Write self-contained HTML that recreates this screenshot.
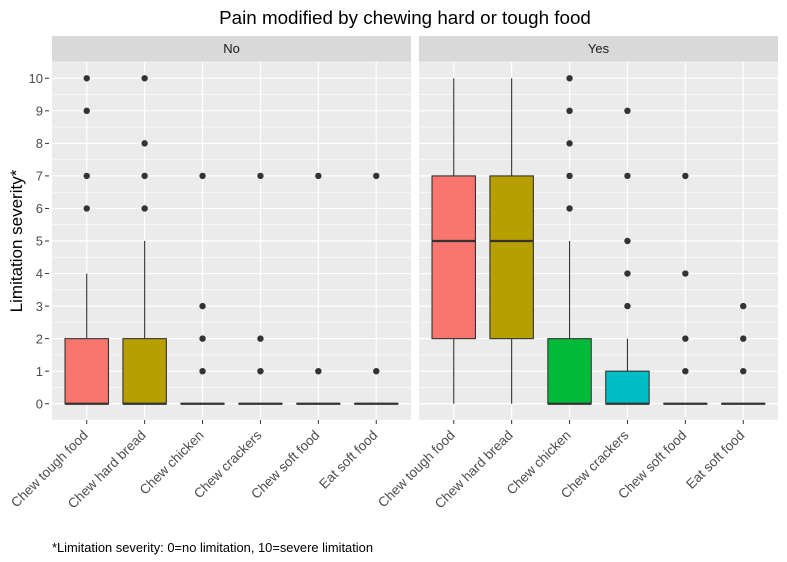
<!DOCTYPE html>
<html><head><meta charset="utf-8"><style>body{margin:0;background:#fff}svg{display:block;font-family:"Liberation Sans",Arial,sans-serif}</style></head>
<body>
<svg id="c" width="787" height="562"></svg>
<script>
const categories=["Chew tough food","Chew hard bread","Chew chicken","Chew crackers","Chew soft food","Eat soft food"];
const panels=["No","Yes"];
const colors=["#F8766D","#B79F00","#00BA38","#00BFC4","#619CFF","#F564E3"];
// [lowWhisker,q1,median,q3,highWhisker]
const statsNo=[[0,0,0,2,4],[0,0,0,2,5],[0,0,0,0,0],[0,0,0,0,0],[0,0,0,0,0],[0,0,0,0,0]];
const outliersNo=[[6,7,9,10],[6,7,8,10],[1,2,3,7],[1,2,7],[1,7],[1,7]];
const statsYes=[[0,2,5,7,10],[0,2,5,7,10],[0,0,0,2,5],[0,0,0,1,2],[0,0,0,0,0],[0,0,0,0,0]];
const outliersYes=[[],[],[6,7,8,9,10],[3,4,5,7,9],[1,2,4,7],[1,2,3]];
const yTicks=[0,1,2,3,4,5,6,7,8,9,10];

const NS="http://www.w3.org/2000/svg",svg=document.getElementById('c');
function el(t,a,p){const e=document.createElementNS(NS,t);for(const k in a)e.setAttribute(k,a[k]);(p||svg).appendChild(e);return e;}
const yTop=62,yBot=420,panelX=[52,419],pw=359;
function y(v){return yBot-(v+0.5)/11*(yBot-yTop);}
function x(p,i){return panelX[p]+(i+0.6)/6.2*pw;}
const unit=pw/6.2,bw=0.75*unit;

let t=el('text',{x:405,y:24,'font-size':18.8,'text-anchor':'middle',fill:'#000'});t.textContent="Pain modified by chewing hard or tough food";


t=el('text',{x:0,y:0,'font-size':17,'text-anchor':'middle',transform:`translate(22,${(yTop+yBot)/2}) rotate(-90)`});t.textContent="Limitation severity*";


t=el('text',{x:52,y:552,'font-size':12.9});t.textContent="*Limitation severity: 0=no limitation, 10=severe limitation";



yTicks.forEach(v=>{
  const l=el('text',{x:43,y:y(v)+4.7,'font-size':13,'text-anchor':'end',fill:'#4D4D4D'});l.textContent=v;
  
  
  el('line',{x1:45,x2:49,y1:y(v),y2:y(v),stroke:'#333','stroke-width':1});
});

panels.forEach((pn,p)=>{
  const g=el('g',{});
  
  
  el('rect',{x:panelX[p],y:36,width:pw,height:26,fill:'#D9D9D9'},g);
  const s=el('text',{x:panelX[p]+pw/2,y:53,'font-size':13,'text-anchor':'middle',fill:'#1A1A1A'},g);s.textContent=pn;
  
  
  el('rect',{x:panelX[p],y:yTop,width:pw,height:yBot-yTop,fill:'#EBEBEB'},g);
  for(let v=-0.5;v<=10.5;v+=1)el('line',{x1:panelX[p],x2:panelX[p]+pw,y1:y(v),y2:y(v),stroke:'#fff','stroke-width':0.6},g);
  yTicks.forEach(v=>el('line',{x1:panelX[p],x2:panelX[p]+pw,y1:y(v),y2:y(v),stroke:'#fff','stroke-width':1.2},g));
  categories.forEach((c,i)=>el('line',{x1:x(p,i),x2:x(p,i),y1:yTop,y2:yBot,stroke:'#fff','stroke-width':1.2},g));
  const st=p?statsYes:statsNo,out=p?outliersYes:outliersNo;
  categories.forEach((c,i)=>{
    const cx=x(p,i),[lo,q1,md,q3,hi]=st[i];
    const b=el('g',{},g);
    
    
    el('line',{x1:cx,x2:cx,y1:y(hi),y2:y(q3),stroke:'#333','stroke-width':1.1},b);
    el('line',{x1:cx,x2:cx,y1:y(q1),y2:y(lo),stroke:'#333','stroke-width':1.1},b);
    el('rect',{x:cx-bw/2,y:y(q3),width:bw,height:Math.max(y(q1)-y(q3),0.01),fill:colors[i],stroke:'#333','stroke-width':1.1},b);
    el('line',{x1:cx-bw/2,x2:cx+bw/2,y1:y(md),y2:y(md),stroke:'#333','stroke-width':2.2},b);
    out[i].forEach(v=>el('circle',{cx:cx,cy:y(v),r:3.2,fill:'#333'},b));
    el('line',{x1:cx,x2:cx,y1:yBot,y2:yBot+4,stroke:'#333','stroke-width':1});
    const lb=el('text',{x:0,y:0,'font-size':13.5,'text-anchor':'end',fill:'#4D4D4D',transform:`translate(${cx+2},${yBot+16}) rotate(-45)`});lb.textContent=c;
    
    
  });
});
</script>
</body></html>
